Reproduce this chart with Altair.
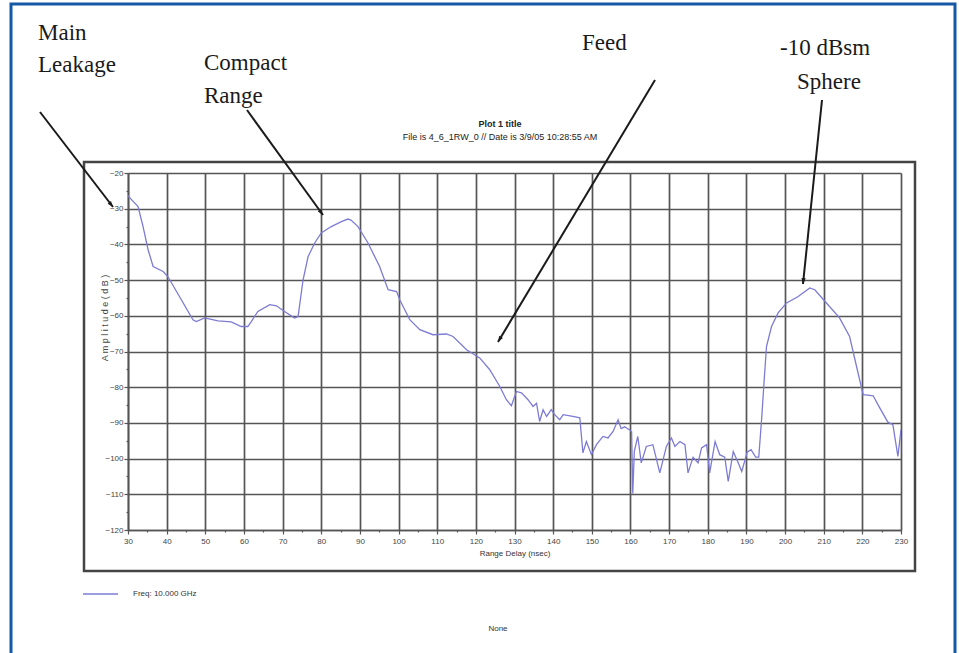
import altair as alt
import pandas as pd

# Range-delay profile at 10 GHz: delay (nsec) and amplitude (dB)
delay_ns = [
    30.0, 32.6, 33.9, 35.2, 36.5, 39.1, 40.3, 43.8, 46.8, 47.7, 49.8, 53.3,
    56.7, 59.3, 61.0, 61.9, 63.6, 66.7, 68.4, 70.5, 73.1, 74.0, 75.3, 76.6,
    78.3, 80.0, 82.6, 85.2, 86.9, 87.7, 89.5, 92.1, 95.1, 97.3, 99.5, 100.3,
    102.9, 105.5, 108.9, 112.4, 114.1, 117.6, 121.0, 123.6, 126.2, 127.9,
    129.2, 130.5, 131.8, 133.5, 134.8, 135.7, 136.5, 137.4, 138.3, 139.5,
    140.4, 141.7, 142.6, 145.1, 146.9, 147.7, 148.6, 149.9, 151.2, 152.9,
    154.2, 155.5, 156.8, 157.6, 158.5, 159.8, 160.3, 160.6, 161.0, 161.9,
    162.8, 164.1, 165.8, 167.6, 169.3, 170.6, 171.5, 172.8, 174.1, 174.9,
    176.2, 177.5, 178.4, 179.7, 180.5, 181.9, 183.1, 184.4, 185.3, 186.6,
    187.9, 188.8, 190.2, 191.2, 192.4, 193.2, 194.0, 194.6, 195.2, 196.5,
    198.2, 200.4, 203.4, 206.4, 207.7, 210.7, 214.1, 216.7, 218.5, 220.2,
    221.9, 222.8, 224.5, 226.6, 227.9, 229.2, 230.0,
]
amplitude_db = [
    -26.4, -29.4, -35.0, -41.5, -46.2, -47.6, -49.0, -55.5, -61.1, -61.6, -60.6, -61.4,
    -61.7, -63.0, -63.0, -61.6, -58.8, -56.9, -57.2, -58.8, -60.6, -60.2, -49.9, -43.4,
    -39.6, -36.8, -35.0, -33.6, -32.9, -33.2, -35.0, -39.6, -46.2, -52.7, -53.2, -55.5,
    -61.1, -63.9, -65.3, -65.1, -65.8, -69.5, -71.8, -75.1, -79.8, -83.5,
    -85.2, -81.2, -81.6, -83.5, -85.4, -84.5, -89.6, -86.3, -88.2, -86.3,
    -87.7, -89.1, -87.7, -88.2, -88.6, -98.4, -95.2, -98.9, -96.1, -93.8,
    -94.2, -92.4, -89.1, -91.6, -91.1, -92.0, -92.5, -109.8, -98.0, -93.8,
    -101.2, -96.6, -96.1, -104.0, -96.6, -94.2, -96.6, -95.2, -96.1, -104.0,
    -99.6, -101.2, -97.0, -96.1, -104.0, -95.2, -98.9, -99.6, -106.4, -98.0,
    -101.2, -103.6, -98.2, -97.5, -99.6, -99.6, -88.0, -78.0, -68.6, -63.0,
    -59.2, -56.4, -54.6, -52.2, -52.7, -56.4, -60.6, -65.8, -74.2, -82.1,
    -82.3, -82.4, -85.8, -89.8, -90.5, -99.4, -91.9,
]

x_ticks = list(range(30, 231, 5))
y_ticks = list(range(-120, -19, 5))

legend_label = "Freq: 10.000 GHz"
title_line1 = "Plot 1 title"
title_line2 = "File is 4_6_1RW_0 // Date is 3/9/05 10:28:55 AM"
x_title = "Range Delay (nsec)"
y_title = "A m p l i t u d e   ( d B )"
footer = "None"

annotations = [
    ("Main", 38, 40), ("Leakage", 38, 72),
    ("Compact", 204, 70), ("Range", 204, 103),
    ("Feed", 582, 50),
    ("-10 dBsm", 780, 55), ("Sphere", 797, 89),
]
# (x_start, y_start, x_tip, y_tip, heading in degrees)
arrows = [
    (40, 112, 113, 207, 141.7),
    (247, 110, 323, 215, 144.1),
    (655, 80, 498, 342, 210.9),
    (822, 100, 803, 284, 185.9),
]

W, H = 773, 357
OX, OY = 128, 173  # page position of the plot origin
LINE_COLOR = "#7d7bd3"
GRID = "#555555"

df = pd.DataFrame({"delay": delay_ns, "amp": amplitude_db})
one = alt.Data(values=[{}])

minor = "datum.value % 10 != 0"
common_axis = dict(
    labelExpr="datum.value % 10 == 0 ? datum.label : ''",
    grid=True, gridColor=GRID, gridWidth=1.7,
    gridOpacity={"condition": {"test": minor, "value": 0}, "value": 1},
    tickColor=GRID, tickWidth=1.2,
    tickSize={"condition": {"test": minor, "value": 2}, "value": 4},
    domainColor=GRID, domainWidth=1.7,
    labelFont="Liberation Sans", labelFontSize=8, labelColor="#444",
    labelFlush=False, labelOverlap=False,
)
x_axis = alt.Axis(
    values=x_ticks, labelPadding=3,
    title=x_title, titleFont="Liberation Sans", titleFontSize=8,
    titleFontWeight="normal", titleColor="#333", titlePadding=4,
    **common_axis,
)
y_axis = alt.Axis(values=y_ticks, labelPadding=1, title=None, **common_axis)

curve = alt.Chart(df).mark_line(color=LINE_COLOR, strokeWidth=1.3, clip=True).encode(
    x=alt.X("delay:Q", scale=alt.Scale(domain=[30, 230], nice=False, zero=False), axis=x_axis),
    y=alt.Y("amp:Q", scale=alt.Scale(domain=[-120, -20], nice=False, zero=False), axis=y_axis),
)

layers = []

# outer blue frame (open at the bottom of the page)
layers.append(alt.Chart(one).mark_rect(fill=None, stroke="#1559a6", strokeWidth=3).encode(
    x=alt.value(11 - OX), x2=alt.value(955 - OX),
    y=alt.value(4 - OY), y2=alt.value(700 - OY)))
# plot box
layers.append(alt.Chart(one).mark_rect(fill=None, stroke="#444", strokeWidth=2.5).encode(
    x=alt.value(84 - OX), x2=alt.value(915 - OX),
    y=alt.value(162 - OY), y2=alt.value(571 - OY)))

layers.append(curve)


def text_at(txt, x, y, size, font, align="center", weight="normal", angle=0,
            color="#222", baseline="middle"):
    return alt.Chart(one).mark_text(
        text=txt, font=font, fontSize=size, align=align, baseline=baseline,
        fontWeight=weight, angle=angle, color=color,
    ).encode(x=alt.value(x - OX), y=alt.value(y - OY))


layers.append(text_at(title_line1, 500, 124, 9, "Liberation Sans", weight="bold"))
layers.append(text_at(title_line2, 500, 137, 9, "Liberation Sans"))
layers.append(text_at(y_title, 105, 318, 9, "Liberation Sans", angle=270, color="#444"))
layers.append(text_at(legend_label, 133, 594, 8, "Liberation Sans", align="left", color="#333"))
layers.append(text_at(footer, 498, 629, 8, "Liberation Sans", color="#333"))
layers.append(alt.Chart(one).mark_rule(color=LINE_COLOR, strokeWidth=1.5).encode(
    x=alt.value(83 - OX), x2=alt.value(118 - OX), y=alt.value(594 - OY)))

for txt, x, y in annotations:
    layers.append(text_at(txt, x, y, 23, "Liberation Serif", align="left",
                          baseline="alphabetic", color="#1a1a1a"))

head = "M0,0L-0.45,1.25L0.45,1.25Z"
for x1, y1, x2, y2, ang in arrows:
    layers.append(alt.Chart(one).mark_rule(color="#1a1a1a", strokeWidth=2).encode(
        x=alt.value(x1 - OX), y=alt.value(y1 - OY),
        x2=alt.value(x2 - OX), y2=alt.value(y2 - OY)))
    layers.append(alt.Chart(one).mark_point(
        shape=head, filled=True, color="#1a1a1a", size=90, angle=ang, opacity=1,
    ).encode(x=alt.value(x2 - OX), y=alt.value(y2 - OY)))

chart = alt.layer(*layers).properties(
    width=W, height=H,
    padding={"left": OX, "top": OY, "right": 959 - OX - W, "bottom": 653 - OY - H},
    autosize=alt.AutoSizeParams(type="none"),
    background="white",
).configure_view(stroke=None)

chart.save("out.html", embed_options={"renderer": "svg", "actions": False})
